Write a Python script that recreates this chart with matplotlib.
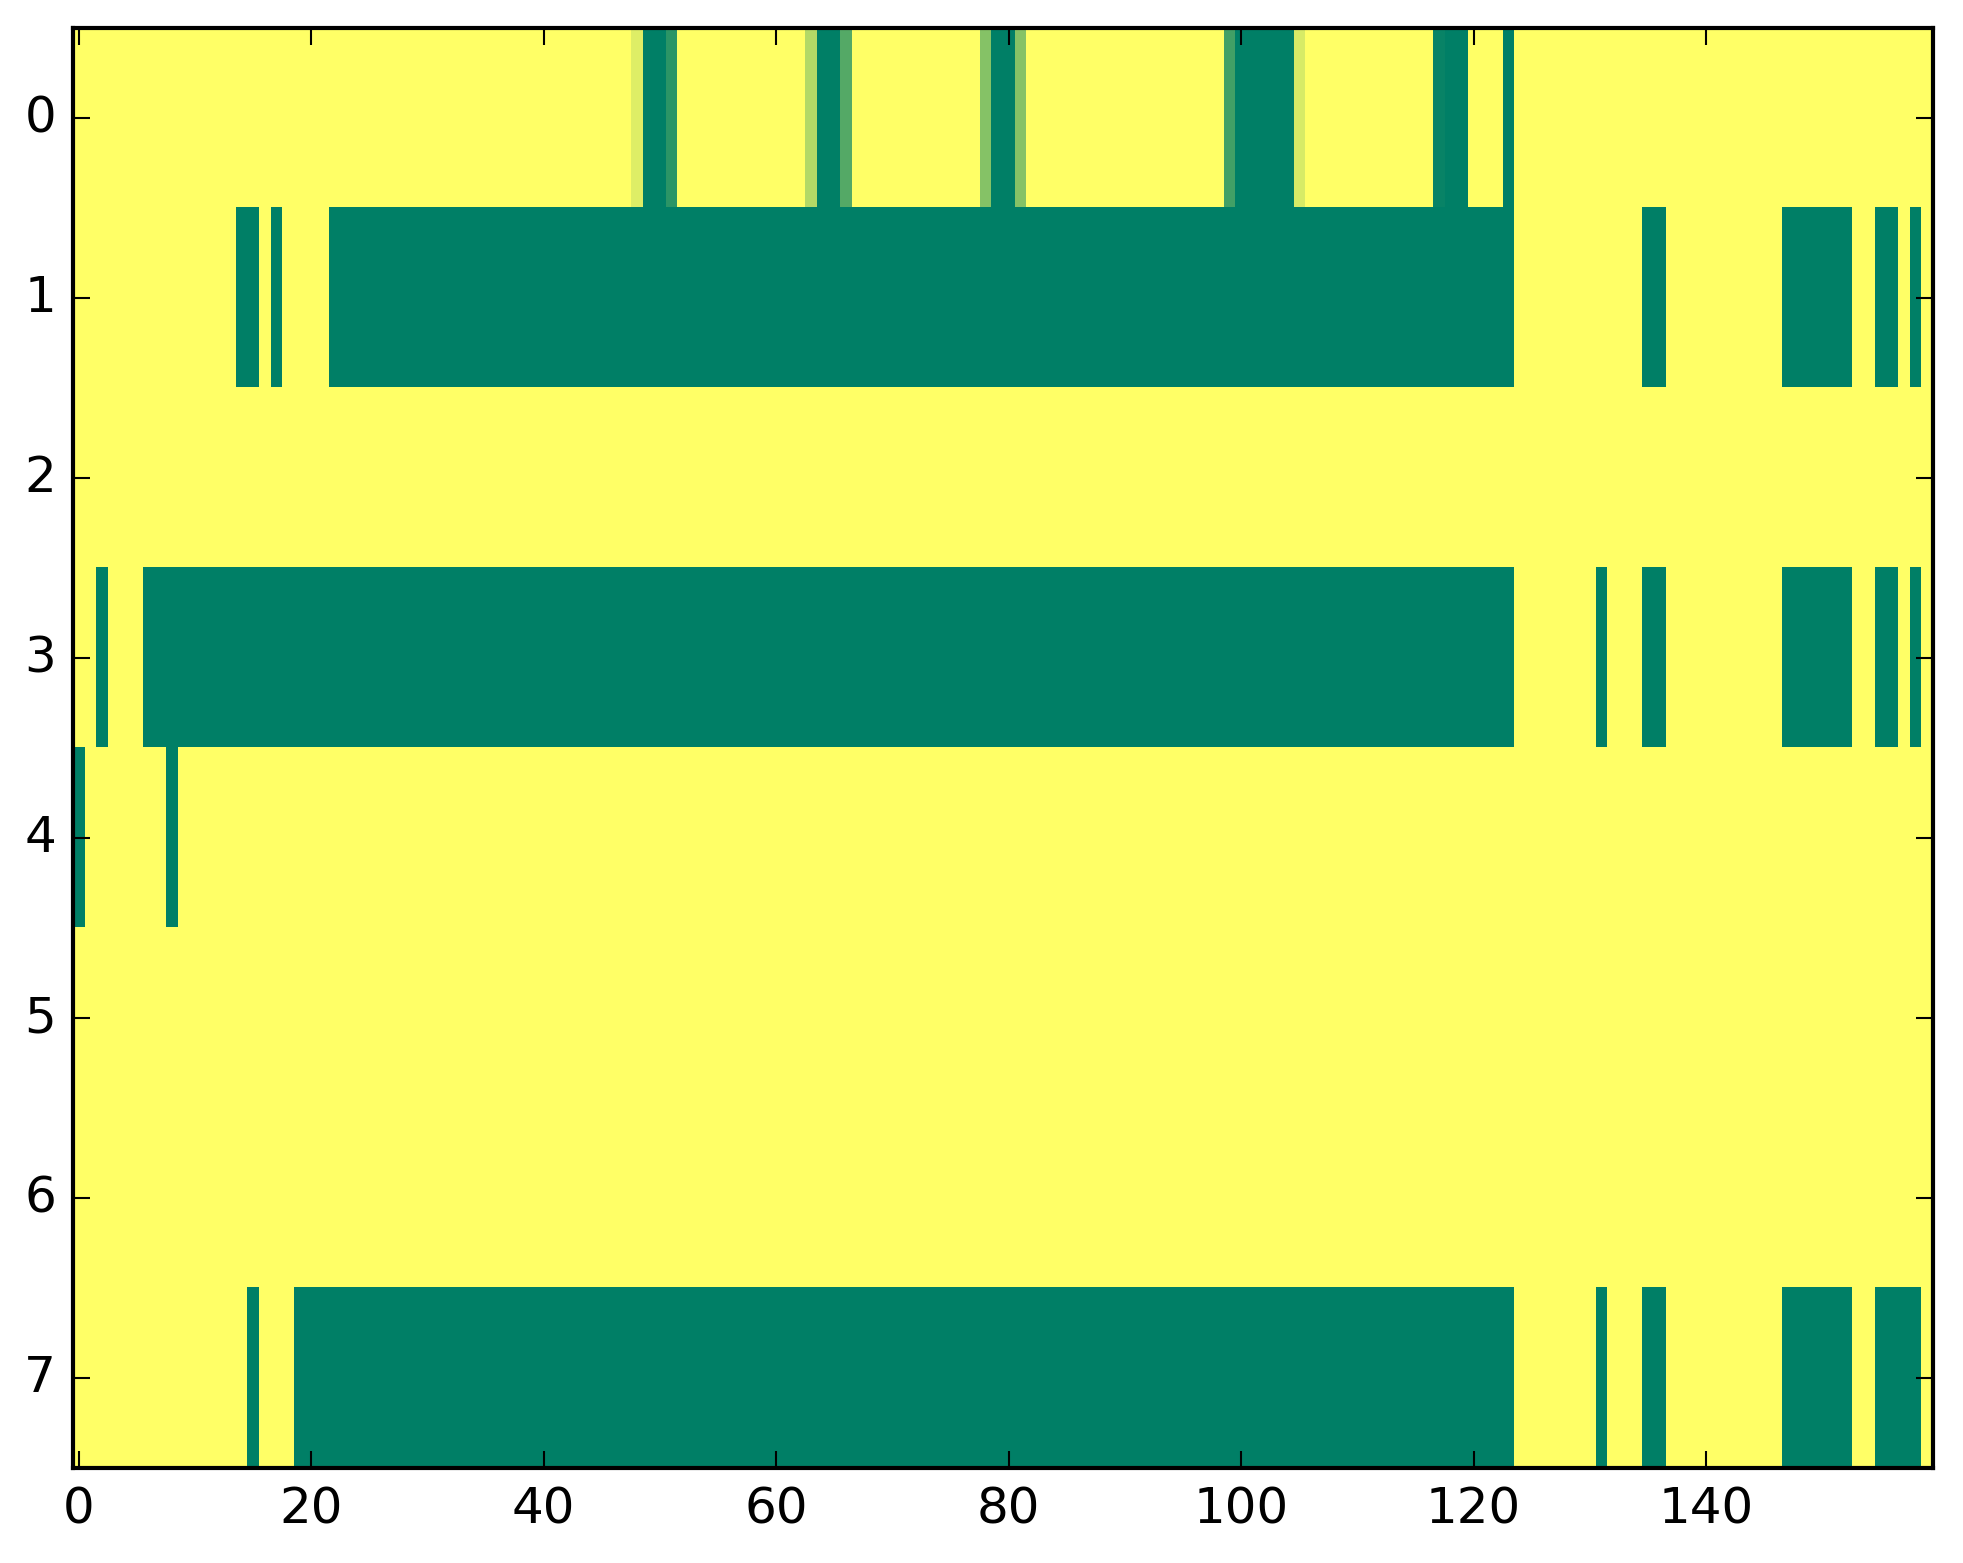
import numpy as np
import matplotlib
matplotlib.use("Agg")
import matplotlib.pyplot as plt

plt.style.use("classic")

n_rows = 8
n_cols = 160

# Each row: list of (first_col, last_col_inclusive, value); everything else is 0
row0 = [(48, 48, 0.13), (49, 50, 1.0), (51, 51, 0.83),
        (63, 63, 0.30), (64, 65, 1.0), (66, 66, 0.67),
        (78, 78, 0.48), (79, 80, 1.0), (81, 81, 0.48),
        (99, 99, 0.74), (100, 104, 1.0), (105, 105, 0.16),
        (117, 117, 0.965), (118, 119, 1.0), (123, 123, 1.0)]
row1 = [(14, 15, 1.0), (17, 17, 1.0), (22, 123, 1.0), (135, 136, 1.0),
        (147, 152, 1.0), (155, 156, 1.0), (158, 158, 1.0)]
row2 = []
row3 = [(2, 2, 1.0), (6, 123, 1.0), (131, 131, 1.0), (135, 136, 1.0),
        (147, 152, 1.0), (155, 156, 1.0), (158, 158, 1.0)]
row4 = [(0, 0, 1.0), (8, 8, 1.0)]
row5 = []
row6 = []
row7 = [(15, 15, 1.0), (19, 123, 1.0), (131, 131, 1.0), (135, 136, 1.0),
        (147, 152, 1.0), (155, 158, 1.0)]

rows = [row0, row1, row2, row3, row4, row5, row6, row7]

data = np.zeros((n_rows, n_cols))
for r, segs in enumerate(rows):
    for a, b, v in segs:
        data[r, a:b + 1] = v

xticks = [0, 20, 40, 60, 80, 100, 120, 140]
yticks = list(range(8))

W, H, DPI = 1963, 1564, 300
fig = plt.figure(figsize=(W / DPI, H / DPI), dpi=DPI, facecolor="white")
ax = fig.add_axes([72.8 / W, (H - 1468.5) / H, 1860 / W, 1440 / H])
ax.imshow(data, aspect="auto", interpolation="nearest", cmap="summer_r",
          vmin=0, vmax=1)
ax.set_xticks(xticks)
ax.set_yticks(yticks)
ax.set_xlim(-0.5, n_cols - 0.5)
ax.set_ylim(n_rows - 0.5, -0.5)
ax.tick_params(labelsize=12)
fig.savefig("out.png", dpi=DPI, facecolor="white")
